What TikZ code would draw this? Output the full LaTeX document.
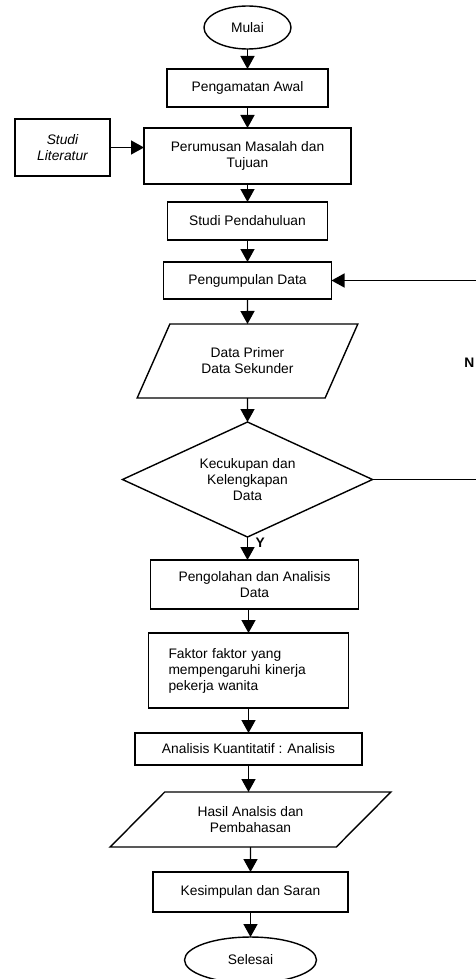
\documentclass[tikz,border=0pt]{standalone}
\usepackage{fontspec}
\setmainfont{Liberation Sans}
\usetikzlibrary{arrows.meta, positioning, shapes.geometric}

\begin{document}
\begin{tikzpicture}[
    x=1pt, y=1pt,
    font=\fontsize{13.8}{16}\selectfont,
    base/.style={draw, line width=1.4pt, align=center, inner sep=0pt, outer sep=0pt},
    terminal/.style={base, ellipse},
    process/.style={base, rectangle},
    io/.style={base, trapezium, trapezium stretches=true},
    decision/.style={base, diamond, aspect=2.17},
    flow/.style={-{Triangle[length=13pt, width=14pt]}, line width=1.4pt},
    answer/.style={font=\fontsize{13.8}{16}\selectfont\bfseries},
  ]
  \useasboundingbox (0,0) rectangle (475,-979);
  % Start
  \node[terminal, minimum width=87pt, minimum height=43pt] (mulai) at (247.5,-27.5) {Mulai};
  % Main column
  \node[process, below=20pt of mulai, minimum width=161pt, minimum height=38pt] (awal) {Pengamatan Awal};
  \node[process, below=21pt of awal, minimum width=207pt, minimum height=56pt] (rumusan) {Perumusan Masalah dan\\Tujuan};
  \node[process, left=34pt of rumusan, yshift=8.5pt, minimum width=95pt, minimum height=57pt, font=\fontsize{13.8}{16}\selectfont\itshape] (literatur) {Studi\\Literatur};
  \node[process, below=18pt of rumusan, minimum width=160pt, minimum height=38pt] (pendahuluan) {Studi Pendahuluan};
  \node[process, below=22pt of pendahuluan, minimum width=168pt, minimum height=37pt] (kumpul) {Pengumpulan Data};
  \node[io, below=25pt of kumpul, minimum width=221pt, minimum height=74pt,
        trapezium left angle=53.4, trapezium right angle=126.6] (data) {Data Primer\\Data Sekunder};
  \node[decision, below=24pt of data, minimum width=250pt, minimum height=115pt] (cukup) {Kecukupan dan\\Kelengkapan\\Data};
  \node[process, below=23pt of cukup, xshift=7pt, minimum width=208pt, minimum height=49pt] (olah) {Pengolahan dan Analisis\\Data};
  \node[process, below=24pt of olah, xshift=-6pt, minimum width=200pt, minimum height=75pt,
        text width=160pt, align=left, inner xsep=20pt] (faktor) {Faktor faktor yang\\mempengaruhi kinerja\\pekerja wanita};
  \node[process, below=25pt of faktor, minimum width=227pt, minimum height=32pt] (kuanti) {Analisis Kuantitatif : Analisis};
  \node[io, below=27pt of kuanti, xshift=2pt, minimum width=281pt, minimum height=55pt,
        trapezium left angle=37.8, trapezium right angle=142.2] (hasil) {Hasil Analsis dan\\Pembahasan};
  \node[process, below=25pt of hasil, minimum width=195pt, minimum height=40pt] (simpul) {Kesimpulan dan Saran};
  % End
  \node[terminal, below=25pt of simpul, minimum width=132pt, minimum height=46pt] (selesai) {Selesai};
  % Labels
  \node[answer, anchor=west, inner sep=0pt] (ya) at ([xshift=8pt, yshift=-6pt]cukup.south) {Y};
  \coordinate[right=109pt of cukup.east] (balik);
  \node[answer, anchor=east, inner sep=0pt] (tidak) at (474.5,-363) {N};
  % Flow
  \draw[flow] (mulai) -- (awal);
  \draw[flow] (awal) -- (rumusan);
  \draw[flow] (literatur) -- (literatur -| rumusan.west);
  \draw[flow] (rumusan) -- (pendahuluan);
  \draw[flow] (pendahuluan) -- (kumpul);
  \draw[flow] (kumpul) -- (data);
  \draw[flow] (data) -- (cukup);
  \draw[flow] (cukup.south) -- (cukup.south |- olah.north);
  \draw[flow] (olah.south -| faktor) -- (faktor);
  \draw[flow] (faktor) -- (kuanti);
  \draw[flow] (kuanti) -- (kuanti |- hasil.north);
  \draw[flow] (hasil) -- (simpul);
  \draw[flow] (simpul) -- (selesai);
  % Loop back
  \draw[flow] (cukup.east) -- (balik) |- (kumpul);
\end{tikzpicture}
\end{document}
